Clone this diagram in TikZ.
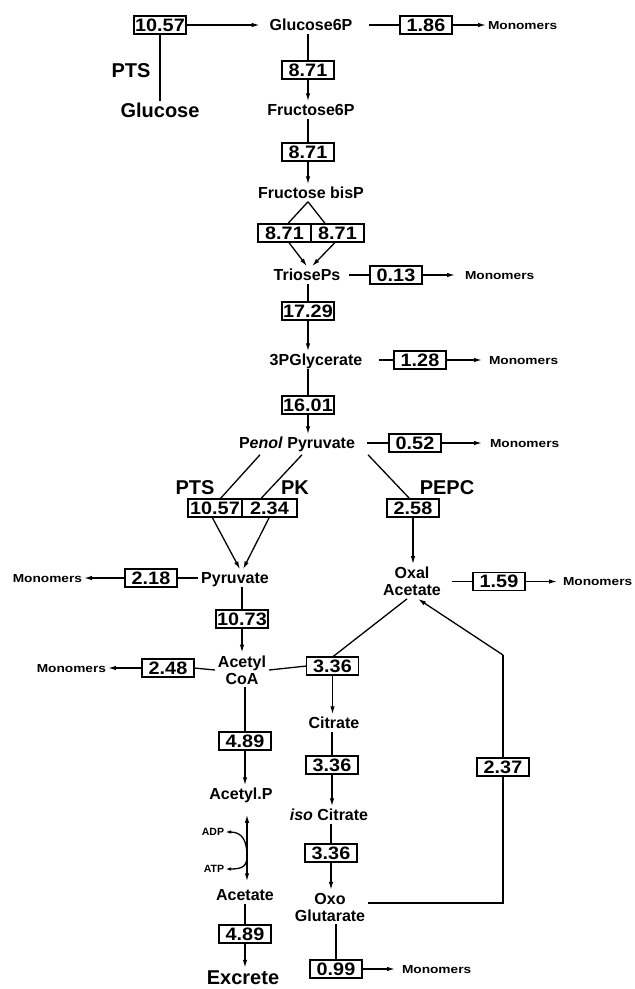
\documentclass[tikz,border=0pt]{standalone}
\usepackage{fontspec}
\setmainfont{Liberation Sans}
\newfontfamily\widefont[FakeStretch=1.18]{Liberation Sans}
\newfontfamily\numfont[FakeStretch=1.1]{Liberation Sans}
\usetikzlibrary{arrows.meta,calc}
\begin{document}
\begin{tikzpicture}[x=1pt,y=-1pt,
  every node/.style={inner sep=0pt, outer sep=0pt},
  num/.style={draw, line width=1.5pt, minimum width=52pt, minimum height=18pt, inner sep=1pt, font=\numfont\fontsize{18}{18}\selectfont\bfseries},
  met/.style={font=\fontsize{16}{17}\selectfont\bfseries, inner sep=3pt, text height=11.5pt, text depth=0pt},
  met2/.style={font=\fontsize{16}{17}\selectfont\bfseries, inner sep=3pt, align=center},
  big/.style={font=\fontsize{20}{22}\selectfont\bfseries, inner sep=2pt, text height=14.5pt, text depth=0pt},
  mono/.style={font=\widefont\fontsize{11.6}{12}\selectfont\bfseries, inner sep=2pt, text height=8.3pt, text depth=0pt},
  small/.style={font=\fontsize{10.5}{11}\selectfont\bfseries, inner sep=1pt, text height=7.5pt, text depth=0pt},
  ln/.style={line width=1.3pt},
  ar/.style={line width=1.3pt, -{Latex[length=8pt,width=4.5pt]}},
  sar/.style={line width=1.3pt, -{Latex[length=6pt,width=3.5pt]}},
]
\useasboundingbox[fill=white] (0,0) rectangle (635,989);

% nodes
\node[num] (b1057) at (160,25) {10.57};
\node[met] (g6p) at (311,25) {Glucose6P};
\node[num] (b186) at (426,25) {1.86};
\node[mono,anchor=west] (m1) at (486,25) {Monomers};
\node[big] (pts1) at (131,70) {PTS};
\node[big] (glc) at (160,110) {Glucose};
\node[num] (b871a) at (308,70) {8.71};
\node[met] (f6p) at (311,110) {Fructose6P};
\node[num] (b871b) at (308,152) {8.71};
\node[met] (fbp) at (311,193) {Fructose bisP};
\node[num, minimum width=53pt] (b871c) at (284.5,233) {8.71};
\node[num, minimum width=53pt] (b871d) at (337.5,233) {8.71};
\node[met] (tri) at (307,275) {TriosePs};
\node[num] (b013) at (396,275) {0.13};
\node[mono,anchor=west] (m2) at (463,275) {Monomers};
\node[num] (b1729) at (308,311) {17.29};
\node[met] (pg3) at (316,360) {3PGlycerate};
\node[num] (b128) at (420,360) {1.28};
\node[mono,anchor=west] (m3) at (487,360) {Monomers};
\node[num] (b1601) at (308,405) {16.01};
\node[met] (pep) at (297,443) {P\textit{enol} Pyruvate};
\node[num] (b052) at (415,443) {0.52};
\node[mono,anchor=west] (m4) at (488,443) {Monomers};
\node[big] (ptsl) at (195,487) {PTS};
\node[big] (pk) at (295,487) {PK};
\node[big] (pepc) at (447,487) {PEPC};
\node[num, minimum width=54pt] (b1057b) at (215,508) {10.57};
\node[num, minimum width=55pt] (b234) at (269.5,508) {2.34};
\node[num] (b258) at (413,508) {2.58};
\node[met] (pyr) at (235,578) {Pyruvate};
\node[num] (b218) at (151,578) {2.18};
\node[mono,anchor=east] (m5) at (84,578) {Monomers};
\node[met2] (oaa) at (412,581.5) {Oxal\\Acetate};
\node[num] (b159) at (499,581.5) {1.59};
\node[mono,anchor=west] (m8) at (561,581.5) {Monomers};
\node[num] (b1073) at (242,619) {10.73};
\node[met2] (acoa) at (242,670) {Acetyl\\CoA};
\node[num] (b248) at (168,668) {2.48};
\node[mono,anchor=east] (m6) at (108,668) {Monomers};
\node[num] (b336a) at (332.5,666) {3.36};
\node[met] (cit) at (334,723) {Citrate};
\node[num] (b336b) at (332,765) {3.36};
\node[met] (iso) at (329,815) {\textit{iso} Citrate};
\node[num] (b336c) at (331,853) {3.36};
\node[met2] (oxo) at (330,907) {Oxo\\Glutarate};
\node[num] (b099) at (336,969) {0.99};
\node[mono,anchor=west] (m7) at (400,969) {Monomers};
\node[num] (b489a) at (245,741) {4.89};
\node[met] (acp) at (241,794) {Acetyl.P};
\node[small] (adp) at (213,832) {ADP};
\node[small] (atp) at (214,869) {ATP};
\node[met] (ace) at (245,895) {Acetate};
\node[num] (b489b) at (245,934) {4.89};
\node[big] (exc) at (243,977) {Excrete};
\node[num] (b237) at (503,767) {2.37};
\coordinate (c1) at (503,655);
\coordinate (c2) at (503,903);
\coordinate (cm) at (247,856);

% connectors
\draw[ln] (b1057.south) -- (glc.north);
\draw[ar,shorten >=7pt] (b1057.east) -- (g6p.west);
\draw[ln,shorten <=14pt] (g6p.east) -- (b186.west);
\draw[ar] (b186.east) -- (m1.west);
\draw[ln] (b871a.north |- g6p.south) -- (b871a.north);
\draw[ar] (b871a.south) -- (b871a.south |- f6p.north);
\draw[ln] (b871b.north |- f6p.south) -- (b871b.north);
\draw[ar] (b871b.south) -- (b871b.south |- fbp.north);
\draw[ln] ($(fbp.south)+(-3,0)$) -- ($(b871c.north)+(3,0)$);
\draw[ln] ($(fbp.south)+(-3,0)$) -- ($(b871d.north)+(-12,0)$);
\draw[ar] ($(b871c.south)+(4,0)$) -- (tri.north);
\draw[ar] ($(b871d.south)+(-2,0)$) -- ($(tri.north)+(5,0)$);
\draw[ln,shorten <=6pt] (tri.east) -- (b013.west);
\draw[ar,shorten >=8pt] (b013.east) -- (m2.west);
\draw[ln] (b1729.north |- tri.south) -- (b1729.north);
\draw[ar] (b1729.south) -- (b1729.south |- pg3.north);
\draw[ln,shorten <=14pt] (pg3.east) -- (b128.west);
\draw[ar,shorten >=5pt] (b128.east) -- (m3.west);
\draw[ln] (b1601.north |- pg3.south) -- (b1601.north);
\draw[ar] (b1601.south) -- (b1601.south |- pep.north);
\draw[ln,shorten <=9pt] (pep.east) -- (b052.west);
\draw[ar,shorten >=6pt] (b052.east) -- (m4.west);
\draw[ln] ($(pep.south)+(-37,3)$) -- ($(b1057b.north)+(5,0)$);
\draw[ln] ($(pep.south)+(5,3)$) -- ($(b234.north)+(-9,0)$);
\draw[ln] ($(pep.south)+(71,3)$) -- ($(b258.north)+(-3,0)$);
\draw[ar] ($(b1057b.south)+(-3,0)$) -- ($(pyr.north)+(5,0)$);
\draw[ar] (b234.south) -- ($(pyr.north)+(8,0)$);
\draw[ar] (b258.south) -- (b258.south |- oaa.north);
\draw[ln,shorten <=8pt] (oaa.east) -- (b159.west);
\draw[ar,shorten >=4pt] (b159.east) -- (m8.west);
\draw[ln] (pyr.west) -- (b218.east);
\draw[ar] (b218.west) -- (m5.east);
\draw[ln] (b1073.north |- pyr.south) -- (b1073.north);
\draw[ar] (b1073.south) -- (b1073.south |- acoa.north);
\draw[ln] (acoa.west) -- (b248.east);
\draw[ar] (b248.west) -- (m6.east);
\draw[ln] (acoa.east) -- (b336a.west);
\draw[ln] (b336a.north) -- ($(oaa.south)+(-5,0)$);
\draw[ar] (b336a.south) -- (b336a.south |- cit.north);
\draw[ln] (b336b.north |- cit.south) -- (b336b.north);
\draw[ar] (b336b.south) -- (b336b.south |- iso.north);
\draw[ln] (b336c.north |- iso.south) -- (b336c.north);
\draw[ar] (b336c.south) -- (b336c.south |- oxo.north);
\draw[ln] (b099.north |- oxo.south) -- (b099.north);
\draw[ar,shorten >=5pt] (b099.east) -- (m7.west);
\draw[ln] (oxo.east |- c2) -- (c2) -- (b237.south);
\draw[ln] (b237.north) -- (c1);
\draw[ar] (c1) -- ($(oaa.south)+(6,0)$);
\draw[ln] (b489a.north |- acoa.south) -- (b489a.north);
\draw[ar] (b489a.south) -- (b489a.south |- acp.north);
\draw[ln, {Latex[length=8pt,width=4.5pt]}-{Latex[length=8pt,width=4.5pt]}] ($(acp.south)+(6,12)$) -- ($(ace.north)+(2,-5)$);
\draw[sar] (cm) .. controls (247,842) and (243,832) .. (adp.east);
\draw[sar] (cm) .. controls (247,866) and (243,869) .. (atp.east);
\draw[ln] (b489b.north |- ace.south) -- (b489b.north);
\draw[ar] (b489b.south) -- (b489b.south |- exc.north);
\end{tikzpicture}
\end{document}
